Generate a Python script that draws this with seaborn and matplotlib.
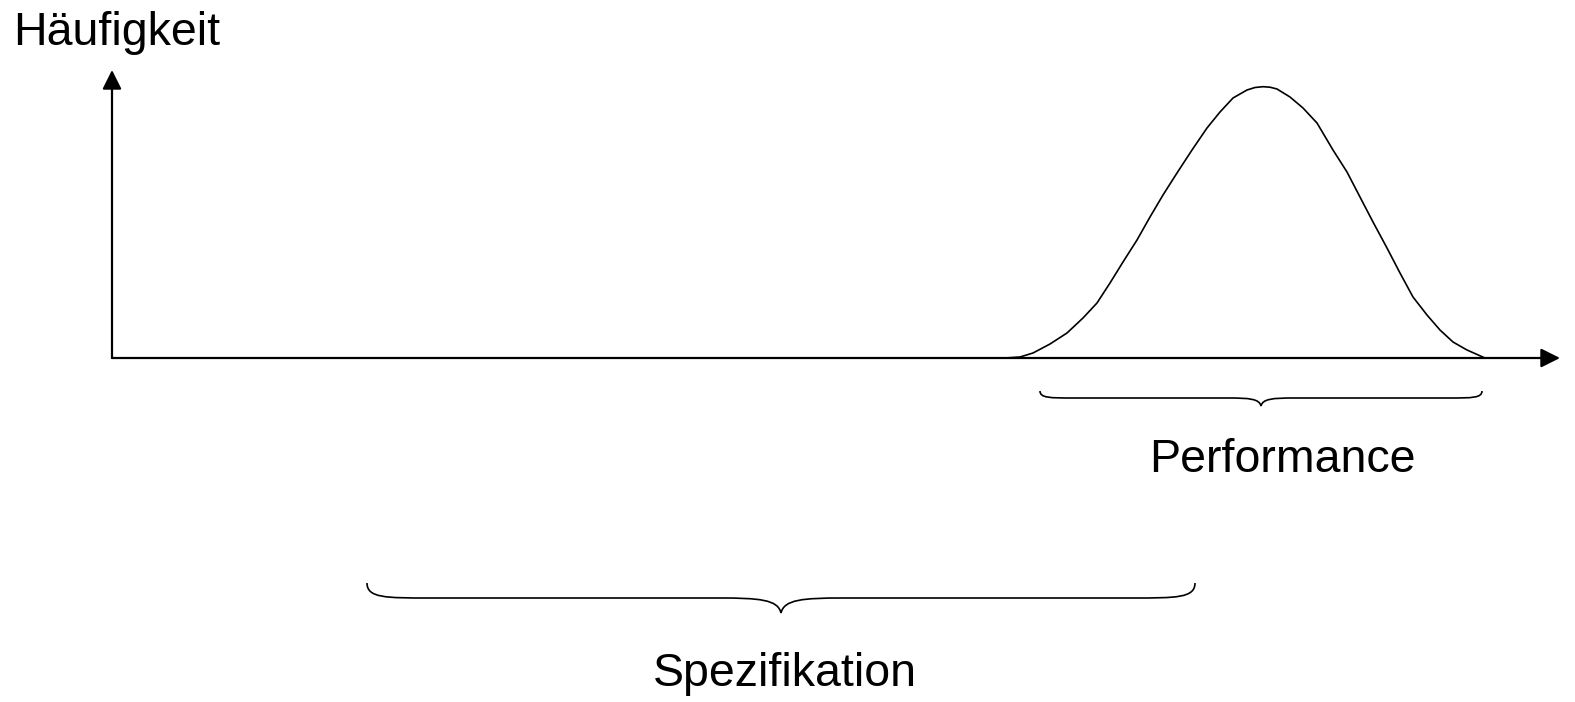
import numpy as np
import matplotlib
matplotlib.use('Agg')
import matplotlib.pyplot as plt
from matplotlib.path import Path
from matplotlib.patches import PathPatch
import seaborn as sns

# x in pixels, frequency = height above the x axis
curve_x = [1005, 1020, 1033, 1050, 1067, 1083, 1097, 1110, 1123, 1137, 1150, 1163,
           1177, 1192, 1207, 1220, 1233, 1247, 1255, 1263, 1270, 1277, 1290, 1303,
           1317, 1333, 1347, 1360, 1373, 1387, 1400, 1413, 1427, 1440, 1453, 1467, 1485]
curve_y = [0, 1, 5, 14, 25, 40, 55, 75, 96, 118, 141, 163,
           185, 208, 230, 246, 260, 268, 270.5, 271.3, 270.8, 269, 261, 250,
           235, 208, 186, 161, 136, 110, 85, 61, 43, 28, 16, 8, 0]

axis_origin = (112, 0)
x_axis_end = 1560
y_axis_end = 288

# braces: (left, right, end height, line height, tip height)
brace_labels = ['Performance', 'Spezifikation']
brace_spans = [(1040, 1482), (367, 1195)]
brace_heights = [(-33, -40, -48), (-225, -240, -255)]
label_pos = [(1282, -114), (785, -328)]

sns.set_theme(style='white')
plt.rcParams['font.family'] = ['Liberation Sans', 'DejaVu Sans']

fig = plt.figure(figsize=(15.75, 7.02), dpi=100)
ax = fig.add_axes([0, 0, 1, 1])
ax.set_xlim(0, 1575)
ax.set_ylim(-344, 358)
ax.axis('off')

sns.lineplot(x=curve_x, y=curve_y, ax=ax, color='black', lw=1.2,
             sort=False, estimator=None)

arrow = dict(arrowstyle='-|>', lw=1.6, color='black', mutation_scale=29,
             shrinkA=0, shrinkB=0)
ax.annotate('', xy=(x_axis_end, axis_origin[1]), xytext=axis_origin, arrowprops=arrow)
ax.annotate('', xy=(axis_origin[0], y_axis_end), xytext=axis_origin, arrowprops=arrow)


def brace(ax, x0, x1, ye, yl, yt):
    xc = (x0 + x1) / 2
    d = 0.075 * (x1 - x0)
    verts = [(x0, ye), (x0, yl), (x0 + d * 0.3, yl), (x0 + d, yl),
             (xc - d, yl),
             (xc - d * 0.35, yl), (xc - d * 0.05, yl - (yt - yl) * -0.1), (xc, yt),
             (xc + d * 0.05, yl - (yt - yl) * -0.1), (xc + d * 0.35, yl), (xc + d, yl),
             (x1 - d, yl),
             (x1 - d * 0.3, yl), (x1, yl), (x1, ye)]
    codes = [Path.MOVETO, Path.CURVE4, Path.CURVE4, Path.CURVE4,
             Path.LINETO,
             Path.CURVE4, Path.CURVE4, Path.CURVE4,
             Path.CURVE4, Path.CURVE4, Path.CURVE4,
             Path.LINETO,
             Path.CURVE4, Path.CURVE4, Path.CURVE4]
    ax.add_patch(PathPatch(Path(verts, codes), fill=False, lw=1.2, edgecolor='black'))


for (x0, x1), (ye, yl, yt) in zip(brace_spans, brace_heights):
    brace(ax, x0, x1, ye, yl, yt)

for lab, (lx, ly) in zip(brace_labels, label_pos):
    ax.text(lx, ly, lab, ha='center', va='baseline', fontsize=33.5, color='black')

ax.text(13, 313, 'Häufigkeit', ha='left', va='baseline', fontsize=33.5, color='black')

fig.savefig('out.png', dpi=100)
